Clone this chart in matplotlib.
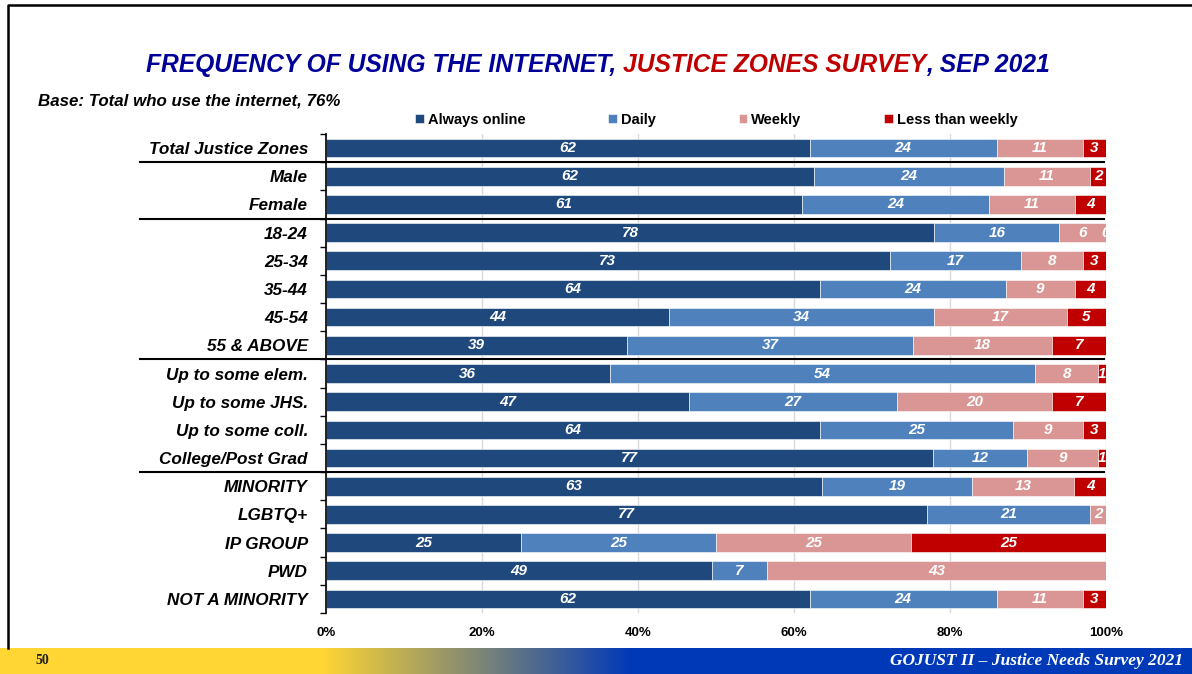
import matplotlib
matplotlib.use("Agg")
import matplotlib.pyplot as plt
import matplotlib.transforms as mtransforms
from matplotlib.lines import Line2D
from matplotlib.colors import to_rgb
import numpy as np

plt.rcParams['font.family'] = ['Liberation Sans', 'DejaVu Sans']

# survey rows, top to bottom
groups = ["Total Justice Zones", "Male", "Female", "18-24", "25-34", "35-44",
          "45-54", "55 & ABOVE", "Up to some elem.", "Up to some JHS.",
          "Up to some coll.", "College/Post Grad", "MINORITY", "LGBTQ+",
          "IP GROUP", "PWD", "NOT A MINORITY"]
always_online = [62, 62, 61, 78, 73, 64, 44, 39, 36, 47, 64, 77, 63, 77, 25, 49, 62]
daily = [24, 24, 24, 16, 17, 24, 34, 37, 54, 27, 25, 12, 19, 21, 25, 7, 24]
weekly = [11, 11, 11, 6, 8, 9, 17, 18, 8, 20, 9, 9, 13, 2, 25, 43, 11]
less_weekly = [3, 2, 4, 0, 3, 4, 5, 7, 1, 7, 3, 1, 4, np.nan, 25, np.nan, 3]

series_names = ["Always online", "Daily", "Weekly", "Less than weekly"]
colors = ["#1F497D", "#4F81BD", "#D99694", "#C00000"]
separators_after = [0, 2, 7, 11]   # rule drawn below these rows

data = np.array([always_online, daily, weekly, less_weekly], dtype=float)
totals = np.nansum(data, axis=0)
shares = np.nan_to_num(data) / totals * 100

fig = plt.figure(figsize=(11.92, 6.74), dpi=100)
ax = fig.add_axes([326/1192, 1 - 613/674, 780/1192, 479/674])

y = np.arange(len(groups))
left = np.zeros(len(groups))
handles = []
for i, (name, col) in enumerate(zip(series_names, colors)):
    b = ax.barh(y, shares[i], left=left, height=0.66, color=col, label=name,
                edgecolor="white", linewidth=0.4)
    handles.append(b)
    for j in range(len(groups)):
        v = data[i, j]
        if np.isnan(v):
            continue
        ax.text(left[j] + shares[i, j] / 2, y[j], f"{v:.0f}", color="white",
                fontsize=11, fontweight="bold", fontstyle="italic",
                ha="center", va="center", clip_on=True)
    left += shares[i]

ax.set_xlim(0, 100)
ax.set_ylim(len(groups) - 0.5, -0.5)
ax.set_xticks(np.arange(0, 101, 20))
ax.set_xticklabels([f"{t}%" for t in range(0, 101, 20)], fontsize=9.5,
                   fontweight="bold")
ax.tick_params(axis="x", length=0, pad=10)
ax.grid(axis="x", color="#D9D9D9", linewidth=1)
ax.set_axisbelow(True)

ax.set_yticks(y)
ax.set_yticklabels(groups, fontsize=12.3, fontweight="bold", fontstyle="italic")
ax.set_yticks(np.arange(-0.5, len(groups)), minor=True)
ax.tick_params(axis="y", which="major", length=0, pad=13)
ax.tick_params(axis="y", which="minor", length=4, width=1, direction="out")
for s in ["top", "right", "bottom"]:
    ax.spines[s].set_visible(False)
ax.spines["left"].set_linewidth(1.2)

# group separator rules spanning label area and bars
trans = mtransforms.blended_transform_factory(fig.transFigure, ax.transData)
for r in separators_after:
    ax.plot([140/1192, 1104/1192], [r + 0.5, r + 0.5], transform=trans,
            color="black", linewidth=1.5, clip_on=False, zorder=5)

fig.legend(handles=handles, loc="center left",
           bbox_to_anchor=(402/1192, 1 - 120/674), ncol=4, frameon=False,
           handlelength=0.6, handleheight=0.6, handletextpad=0.25,
           columnspacing=5.7, prop={"weight": "bold", "size": 10.5})

# title in two colours
title_parts = [("FREQUENCY OF USING THE INTERNET, ", "#000099"),
               ("JUSTICE ZONES SURVEY", "#C00000"),
               (", SEP 2021", "#000099")]
fig.canvas.draw()
renderer = fig.canvas.get_renderer()
texts = []
for s, c in title_parts:
    t = fig.text(0, 1 - 65/674, s, color=c, fontsize=17.7, fontweight="bold",
                 fontstyle="italic", va="center", ha="left")
    texts.append(t)
widths = [t.get_window_extent(renderer).width for t in texts]
x0 = 598 - sum(widths) / 2
for t, w in zip(texts, widths):
    t.set_x(x0 / 1192)
    x0 += w

fig.text(38/1192, 1 - 101/674, "Base: Total who use the internet, 76%",
         fontsize=12.2, fontweight="bold", fontstyle="italic", va="center")

# slide frame: left and top edges only
fig.add_artist(Line2D([8/1192, 8/1192, 1.0], [26/674, 1 - 5/674, 1 - 5/674],
                      transform=fig.transFigure, color="black", linewidth=1.8))

# footer band, yellow fading to blue
fax = fig.add_axes([0, 0, 1, 26/674])
xs = np.linspace(0, 1, 1192)
mix = np.clip((xs - 0.27) / (0.53 - 0.27), 0, 1)
yellow = np.array(to_rgb("#FFD633"))
blue = np.array(to_rgb("#0039B8"))
band = yellow[None, :] * (1 - mix[:, None]) + blue[None, :] * mix[:, None]
fax.imshow(band[None, :, :], aspect="auto", extent=[0, 1, 0, 1])
fax.set_xlim(0, 1)
fax.set_ylim(0, 1)
fax.axis("off")
fax.text(35/1192, 0.5, "50", fontsize=10, fontweight="bold",
         family="Liberation Serif", va="center", ha="left", color="#222222")
fax.text(1183/1192, 0.5, "GOJUST II \u2013 Justice Needs Survey 2021", fontsize=12.5,
         fontweight="bold", fontstyle="italic", family="Liberation Serif",
         va="center", ha="right", color="white")

fig.savefig("out.png", dpi=100)
